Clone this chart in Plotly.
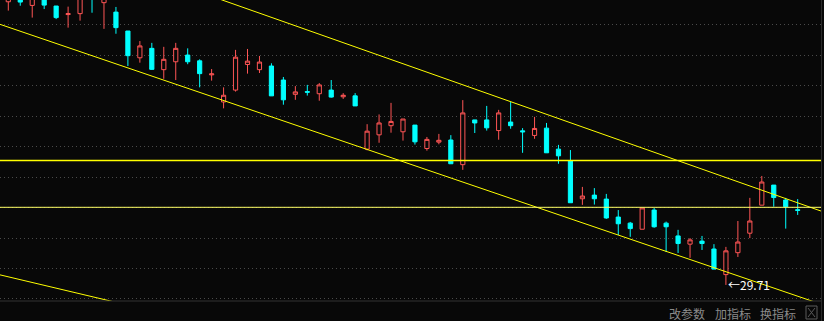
import plotly.graph_objects as go

# ---- data: daily candles (index 0..66) ----
idx = list(range(67))
opens = [39.01, 39.17, 38.89, 39.13, 38.87, 38.59, 38.62, 39.40, 38.98, 38.67,
         38.05, 37.17, 37.48, 36.78, 37.04, 37.26, 37.07, 36.61, 35.72, 36.11,
         36.95, 36.78, 36.90, 36.44, 35.97, 36.06, 35.99, 36.11, 35.89, 35.92,
         34.17, 34.64, 34.94, 34.74, 34.96, 34.19, 34.40, 34.47, 33.66, 35.13,
         35.13, 34.78, 35.06, 34.77, 34.62, 34.86, 34.17, 33.78, 32.54, 32.66,
         32.53, 31.94, 31.74, 31.54, 32.17, 31.74, 31.32, 31.05, 31.15, 30.89,
         30.05, 30.77, 31.41, 32.33, 32.99, 32.50, 32.18]
highs = [39.33, 39.27, 39.40, 39.23, 38.87, 38.85, 39.27, 39.46, 39.33, 38.84,
         38.05, 37.72, 37.66, 37.53, 37.66, 37.48, 37.12, 36.80, 36.20, 37.43,
         37.46, 37.23, 36.99, 36.54, 36.24, 36.28, 36.34, 36.44, 36.01, 36.01,
         34.99, 35.31, 35.69, 35.16, 34.96, 34.57, 34.67, 34.63, 35.78, 35.13,
         35.59, 35.46, 35.72, 34.86, 35.23, 35.03, 34.31, 34.14, 32.93, 32.89,
         32.70, 32.17, 31.78, 32.24, 32.24, 31.79, 31.52, 31.25, 31.32, 31.05,
         30.96, 31.81, 32.57, 33.29, 32.99, 32.57, 32.53]
lows = [38.72, 38.88, 38.49, 38.77, 38.44, 38.16, 38.39, 38.65, 38.12, 37.96,
        36.90, 37.01, 36.77, 36.48, 36.44, 36.96, 36.20, 36.42, 35.51, 36.06,
        36.65, 36.67, 35.92, 35.63, 35.79, 35.93, 35.76, 35.86, 35.82, 35.59,
        34.13, 34.38, 34.71, 34.45, 34.32, 34.12, 34.33, 33.69, 33.49, 34.70,
        34.78, 34.48, 34.84, 34.05, 34.51, 34.05, 33.69, 32.41, 32.34, 32.35,
        31.88, 31.35, 31.29, 31.54, 31.59, 30.79, 30.76, 30.60, 30.86, 30.23,
        29.71, 30.63, 31.25, 32.33, 32.28, 31.56, 32.01]
closes = [39.20, 39.00, 39.13, 38.90, 38.49, 38.62, 39.13, 39.17, 39.17, 38.16,
          37.24, 37.56, 36.79, 37.12, 37.48, 37.04, 36.65, 36.64, 35.94, 37.19,
          37.06, 37.03, 35.92, 35.79, 36.05, 36.04, 36.28, 35.88, 35.94, 35.59,
          34.76, 35.03, 35.08, 35.16, 34.41, 34.49, 34.46, 33.69, 35.36, 35.03,
          34.87, 35.36, 34.94, 34.74, 34.85, 34.05, 33.95, 32.41, 32.63, 32.54,
          31.91, 31.72, 31.56, 32.24, 31.62, 31.62, 31.07, 31.19, 31.07, 30.23,
          30.83, 31.12, 31.81, 33.09, 32.58, 32.28, 32.16]

# ---- drawn lines (candle index, price) ----
upper_x, upper_y = [17, 68], [39.19, 32.13]
lower_x, lower_y = [-1, 67.5], [38.31, 29.14]
short_x, short_y = [-1, 9], [30.07, 29.14]
hline1_price = 33.80
hline2_price = 32.26
low_label = 29.71
low_index = 60

BG = "#080808"
RED = "#ff5555"
CYAN = "#00ffff"

fig = go.Figure()
fig.add_trace(go.Candlestick(
    x=idx, open=opens, high=highs, low=lows, close=closes,
    increasing=dict(line=dict(color=RED, width=1), fillcolor=BG),
    decreasing=dict(line=dict(color=CYAN, width=1), fillcolor=CYAN),
    whiskerwidth=0, showlegend=False, hoverinfo="skip",
))

def add_line(xs, ys, color="#ffff00", width=1):
    fig.add_trace(go.Scatter(x=xs, y=ys, mode="lines",
                             line=dict(color=color, width=width),
                             showlegend=False, hoverinfo="skip"))

add_line(upper_x, upper_y)
add_line(lower_x, lower_y)
add_line(short_x, short_y)
add_line([-1, 68], [hline1_price, hline1_price], width=1.5)
add_line([-1, 68], [hline2_price, hline2_price], color="#ffff66", width=1)

W, H = 824, 321
fig.update_layout(
    width=W, height=H, margin=dict(l=0, r=0, t=0, b=0),
    paper_bgcolor=BG, plot_bgcolor=BG, boxgap=0.5,
    xaxis=dict(domain=[0, 821 / W], range=[-0.694, 67.95], showgrid=False,
               showticklabels=False, zeroline=False, showline=False,
               rangeslider=dict(visible=False), ticks=""),
    yaxis=dict(domain=[20 / H, 1], range=[29.183, 39.068], showgrid=True,
               gridcolor="#4a4a4a", griddash="1px,3px", gridwidth=1,
               tick0=0.25, dtick=1, showticklabels=False, zeroline=False,
               showline=False, ticks=""),
    font=dict(family="Noto Sans CJK SC"),
)

fig.add_annotation(x=low_index, y=low_label, text="\u2190" + f"{low_label:.2f}",
                   showarrow=False, xanchor="left", yanchor="middle", xshift=0,
                   font=dict(color="#ffffff", size=12, family="Noto Sans CJK SC"))

# bottom toolbar
for label, cx in [("改参数", 687), ("加指标", 732.5), ("换指标", 777.5)]:
    fig.add_annotation(x=cx / W, y=(H - 313) / H, xref="paper", yref="paper",
                       text=label, showarrow=False, xanchor="center",
                       yanchor="middle",
                       font=dict(color="#8a8a8a", size=12,
                                 family="Noto Sans CJK SC"))

shapes = [
    dict(type="line", xref="paper", yref="paper", x0=0, x1=822 / W,
         y0=(H - 301) / H, y1=(H - 301) / H, line=dict(color="#333333", width=1)),
    dict(type="line", xref="paper", yref="paper", x0=821.5 / W, x1=821.5 / W,
         y0=0, y1=1, line=dict(color="#2a2a2a", width=1)),
    dict(type="rect", xref="paper", yref="paper", x0=806 / W, x1=817 / W,
         y0=(H - 319) / H, y1=(H - 306) / H, line=dict(color="#5a5a5a", width=1)),
    dict(type="line", xref="paper", yref="paper", x0=808 / W, x1=815 / W,
         y0=(H - 317) / H, y1=(H - 308) / H, line=dict(color="#5a5a5a", width=1)),
    dict(type="line", xref="paper", yref="paper", x0=808 / W, x1=815 / W,
         y0=(H - 308) / H, y1=(H - 317) / H, line=dict(color="#5a5a5a", width=1)),
]
fig.update_layout(shapes=shapes)

fig.write_html("out.html")
